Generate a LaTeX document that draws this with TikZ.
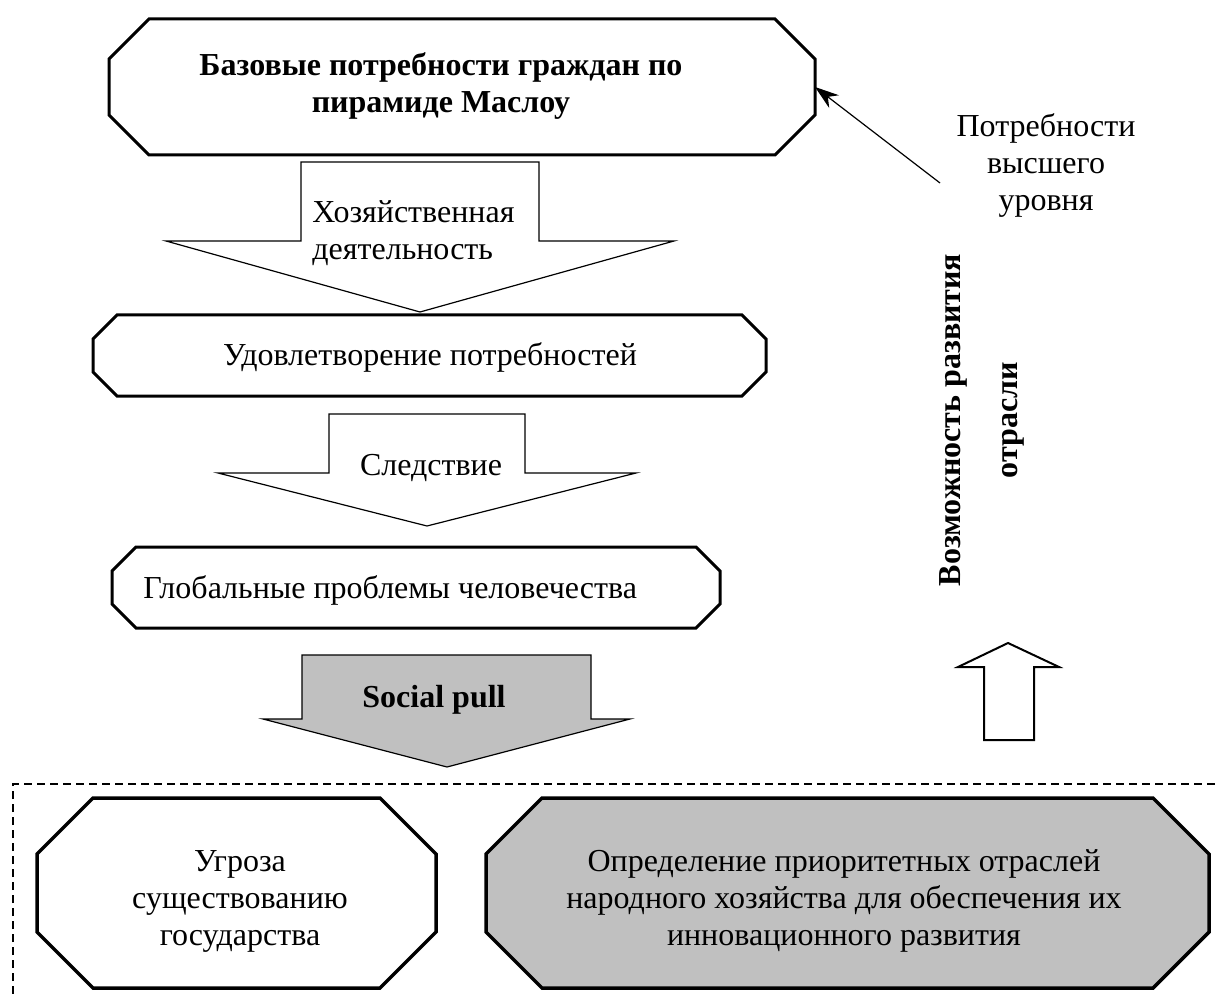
\documentclass[tikz,border=0pt]{standalone}
\usepackage{fontspec}
\setmainfont{Liberation Serif}
\usetikzlibrary{arrows.meta}
\definecolor{grey1}		{RGB}{192,192,192}
\tikzstyle{txt}=	[font=\fontsize{16pt}{18.5pt}\selectfont, inner sep=0pt, align=center]
\tikzstyle{txtb}=	[txt, font=\fontsize{16pt}{18.5pt}\selectfont\bfseries]
\tikzstyle{obox}=	[rectangle, inner sep=0pt, outer sep=0pt]
\tikzstyle{oline}=	[draw, line width=1.5pt, fill=white, line join=miter]
\tikzstyle{barrow}=	[draw, line width=0.6pt, fill=white, line join=miter]
\tikzstyle{pointer}=	[-{Stealth[length=12pt, width=8pt]}, line width=0.6pt]
\tikzstyle{frame}=	[line width=0.6pt, dash pattern=on 4pt off 2.5pt]
% octagon round a named node: name, chamfer, style
\newcommand{\chamferbox}[3]{\draw[#3] ([xshift=#2]#1.north west) -- ([xshift=-#2]#1.north east) -- ([yshift=-#2]#1.north east) -- ([yshift=#2]#1.south east) -- ([xshift=-#2]#1.south east) -- ([xshift=#2]#1.south west) -- ([yshift=#2]#1.south west) -- ([yshift=-#2]#1.north west) -- cycle;}

\begin{document}
\begin{tikzpicture}[x=0.5pt, y=-0.5pt]
	\useasboundingbox (0,0) rectangle (1219,994);

	%%% top box
	\node[obox, minimum width=353pt, minimum height=68pt] (top) at (462,87) {};
	\chamferbox{top}{20pt}{oline}
	\node[txtb, anchor=base] (topt) at (441,113) {Базовые потребности граждан по\\пирамиде Маслоу};

	% arrow 1
	\draw[barrow] (301,162) -- (539,162) -- (539,241) -- (674,241) -- (420,312) -- (166,241) -- (301,241) -- cycle;
	\node[txt, anchor=base west, align=left] (hoz) at (312,260) {Хозяйственная\\деятельность};

	%%% middle boxes
	\node[obox, minimum width=336.5pt, minimum height=40.5pt] (udov) at (429.5,355.5) {};
	\chamferbox{udov}{12pt}{oline}
	\node[txt, anchor=base] (udovt) at (430,365) {Удовлетворение потребностей};

	% arrow 2
	\draw[barrow] (329,414) -- (525,414) -- (525,473) -- (636,473) -- (427,526) -- (218,473) -- (329,473) -- cycle;
	\node[txt, anchor=base] (sled) at (431,475) {Следствие};

	\node[obox, minimum width=304pt, minimum height=40.5pt] (glob) at (416,587.5) {};
	\chamferbox{glob}{12pt}{oline}
	\node[txt, anchor=base west] (globt) at (143,598) {Глобальные проблемы человечества};

	% arrow 3
	\draw[barrow, fill=grey1] (302,655) -- (591,655) -- (591,719) -- (630,719) -- (447,767) -- (263,719) -- (302,719) -- cycle;
	\node[txtb, anchor=base] (pull) at (434,707) {Social pull};

	%%% right side
	\node[txt, anchor=base] (potr) at (1046,211) {Потребности\\высшего\\уровня};
	\coordinate (ptail) at (940,183);
	\draw[pointer] (ptail) -- (top.east);

	\node[txtb, rotate=90, anchor=base, font=\fontsize{16pt}{28.5pt}\selectfont\bfseries] (vozm) at (1017,420) {Возможность развития\\отрасли};

	% arrow up
	\draw[barrow, line width=1pt] (984,740) -- (984,667) -- (958,667) -- (1008,643) -- (1059,667) -- (1034,667) -- (1034,740) -- cycle;

	%%% bottom
	\draw[frame] (13,994) -- (13,784) -- (1219,784);

	\node[obox, minimum width=199.5pt, minimum height=95pt] (threat) at (236.5,893) {};
	\chamferbox{threat}{28pt}{oline, line width=1.75pt}
	\node[txt, anchor=base] (threatt) at (240,945) {Угроза\\существованию\\государства};

	\node[obox, minimum width=361.5pt, minimum height=95pt] (prior) at (847.5,893) {};
	\chamferbox{prior}{28pt}{oline, line width=1.75pt, fill=grey1}
	\node[txt, anchor=base] (priort) at (844,945) {Определение приоритетных отраслей\\народного хозяйства для обеспечения их\\инновационного развития};

\end{tikzpicture}
\end{document}
